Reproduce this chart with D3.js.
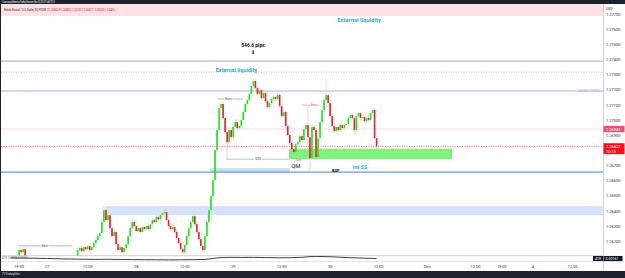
<!DOCTYPE html>
<html><head><meta charset="utf-8">
<script src="https://cdn.jsdelivr.net/npm/d3@7/dist/d3.min.js"></script>
<style>
html,body{margin:0;padding:0;background:#fff;overflow:hidden;}
svg{display:block;font-family:Roboto,"Liberation Sans",sans-serif;}
</style></head><body>
<script>
// ---------- DATA ----------
const firstOpen = 1.26090;
const closes = [
 1.26080,1.26095,1.26070,1.26100,1.26142,1.26128,1.26148,1.26085,1.26060,1.26040,
 1.26020,1.25990,1.25970,1.25950,1.25980,1.25960,1.25940,1.25920,1.25950,1.25975,
 1.25960,1.25990,1.26010,1.25995,1.26020,1.26040,1.26030,1.26050,1.26070,1.26060,
 1.26080,1.26090,1.26100,1.26142,1.26155,1.26135,1.26161,1.26148,1.26168,1.26142,
 1.26161,1.26188,1.26208,1.26234,1.26254,1.26327,1.26406,1.26340,1.26373,1.26287,
 1.26234,1.26261,1.26181,1.26142,1.26161,1.26128,1.26155,1.26181,1.26234,1.26287,
 1.26327,1.26300,1.26267,1.26287,1.26261,1.26294,1.26280,1.26300,1.26280,1.26313,
 1.26340,1.26327,1.26360,1.26346,1.26373,1.26386,1.26393,1.26340,1.26300,1.26280,
 1.26294,1.26261,1.26221,1.26188,1.26148,1.26128,1.26175,1.26234,1.26287,1.26327,
 1.26366,1.26313,1.26261,1.26214,1.26168,1.26142,1.26234,1.26327,1.26406,1.26498,
 1.26604,1.26803,1.26935,1.27080,1.27107,1.27014,1.26922,1.26855,1.26935,1.26888,
 1.26955,1.26988,1.26948,1.26961,1.27001,1.27054,1.27107,1.27133,1.27173,1.27226,
 1.27259,1.27212,1.27173,1.27199,1.27146,1.27179,1.27126,1.27087,1.27113,1.27140,
 1.27153,1.27140,1.27166,1.27093,1.27027,1.27054,1.26961,1.26902,1.26849,1.26809,
 1.26789,1.26842,1.26855,1.26895,1.26869,1.26941,1.26968,1.26888,1.26750,1.26955,
 1.26935,1.26756,1.26882,1.26988,1.27067,1.27133,1.27166,1.27113,1.27027,1.26961,
 1.26928,1.26955,1.26935,1.26968,1.26948,1.26968,1.26974,1.27014,1.27034,1.27014,
 1.26935,1.27027,1.27047,1.27014,1.27021,1.26994,1.27014,1.27001,1.27047,1.27067,
 1.26882,1.26827
];
// wick lengths in pips
const wickUp = [
 1,1,1,0.5,2,1,1.5,1,1,1,
 1,1,1,1,1,1,1,1,1,1,
 1,1,1,1,1,1,1,1,1,1,
 0.5,0.5,0.5,1.5,1,2,1,1.5,1,2,
 1,1.5,1,1.5,1,2,3.3,1.5,2,1,
 1.5,2,1,1,1.5,1,1,1.5,1,1,
 2,1.5,1,2,1,1.5,1,2,1,1,
 1.5,1,1.5,1,1,1,2.6,1.5,1,2,
 1,1.5,1,1,1.5,1,1,1.5,1,1,
 2.6,1.5,1,1,1.5,1,1,1.5,1,1,
 1.5,1,2,4,2,1.5,1,1,2,1,
 1.5,2,1.5,1,1,1.5,1,1,1.5,1,
 2,1.5,1,1.5,1,2,1,1,1,1.5,
 1,1,2,1,1.5,1,1,1,1,1,
 1.5,1,1,1.5,1,2,1.5,13,1,2,
 1,1,1.5,1,1.5,1,11,1,1,1.5,
 1,1,1,1.5,1,1,1.5,1,1.5,1,
 1,1.5,1,1,1.5,1,1,1.5,1,1.3,
 1,0.5
];
const wickDn = [
 1,1,1,1,2,1.5,1,1,1,1,
 1,1,1,1,1,1,1,1,1,1,
 1,1,1,1,1,1,1,1,1,1,
 1,1,1,1.5,1,1,1.5,1,1,1.5,
 1,1,1.5,1,1.5,1,1,1.5,1,1,
 1.5,1,1,1.5,1,1.3,1,1,1.5,1,
 1,1.5,1,1,1.5,1,1,1,1.5,1,
 1,1,1,1.5,1,1,1,1,1.5,1,
 1,1.5,1,1,1,1.3,1.5,1,1,1,
 1,1.5,1,1,1.5,2,1,1,1,1,
 1.5,1,1,1,1.5,1,1,11,1,1.5,
 1,1,1.5,1,1.5,1,1,1,1,1,
 1.5,1,1,1,1.5,1,1.5,1,1,1,
 1,1.5,1,1,1.5,1,1,1,1.5,1,
 2,1,1.5,1,1,1.5,1,15,9.5,1.5,
 1,2,1,1,1,1.5,1,1,1,1,
 1.5,1,2.6,1,1.5,1,1,1,1.5,1,
 3,1,1,1.5,1,1,1.5,1,1,1,
 1,3.7
];
// ATR(14) samples: [bar index, value]
const atrIdx  = [0,6,12,18,24,30,36,42,48,54,60,66,72,78,84,90,96,102,108,114,120,126,132,138,144,150,156,162,168,174,180,181];
const atrVals = [0.00190,0.00185,0.00175,0.00165,0.00150,0.00140,0.00130,0.00125,0.00130,0.00120,0.00115,0.00110,0.00105,0.00100,0.00105,0.00110,0.00120,0.00190,0.00215,0.00210,0.00215,0.00205,0.00195,0.00200,0.00215,0.00260,0.00250,0.00225,0.00200,0.00180,0.00165,0.00161];
// axes
const priceTicks = [1.277,1.276,1.275,1.274,1.273,1.272,1.271,1.270,1.269,1.267,1.266,1.265,1.264,1.263,1.262];
const timeTickIdx = [4,18,38,62,86,110,134,158,182,206,230,243,258.5,278];
const timeTickLabels = ["19:00","27","12:00","28","12:00","29","12:00","30","12:00","Dec","12:00","19:00","4","12:00"];
// levels (prices)
const lvlPips = 1.27391, lvlDotted = 1.27318, lvlFib = 1.27193, lvlAlert = 1.26942, lastPrice = 1.26827, lvlIntSS = 1.26657;
const zoneBlue = [1.26432, 1.26373], zoneGreen = [1.26812, 1.26743], zoneBSF = [1.26683, 1.26657];
const lastATR = 0.00161;

// ---------- LAYOUT ----------
const W = 625, H = 278;
const PX0 = 1, PX1 = 603, PY0 = 4, PY1 = 255.5;
const x = d3.scaleLinear().domain([0, 100]).range([11, 213]);
const y = d3.scaleLinear().domain([1.262, 1.277]).range([241.3, 14.3]);
const yA = d3.scaleLinear().domain([0.0005, 0.0030]).range([261, 255.5]);
const fmt = d3.format(".5f");

const svg = d3.select("body").append("svg").attr("width", W).attr("height", H);
svg.append("rect").attr("width", W).attr("height", H).attr("fill", "#fff");
const defs = svg.append("defs");
defs.append("clipPath").attr("id","clip").append("rect").attr("x",PX0).attr("y",PY0).attr("width",PX1-PX0).attr("height",PY1-PY0);
defs.append("clipPath").attr("id","clipA").append("rect").attr("x",PX0).attr("y",256).attr("width",PX1-PX0).attr("height",5.5);

const g = svg.append("g").attr("clip-path","url(#clip)");

// legend band
g.append("rect").attr("x",PX0).attr("y",PY0).attr("width",PX1-PX0).attr("height",12).attr("fill","#fde1e4");

// zones
g.append("rect").attr("x",x(46.5)).attr("y",y(zoneBlue[0])).attr("width",PX1-x(46.5)).attr("height",y(zoneBlue[1])-y(zoneBlue[0])).attr("fill","#d5e3fa");
g.append("rect").attr("x",x(98.5)).attr("y",y(zoneBSF[0])).attr("width",x(138)-x(98.5)).attr("height",y(zoneBSF[1])-y(zoneBSF[0])).attr("fill","#cddcf7");
g.append("rect").attr("x",x(137.6)).attr("y",y(zoneGreen[0])).attr("width",x(218.3)-x(137.6)).attr("height",y(zoneGreen[1])-y(zoneGreen[0])).attr("fill","#80f080");

// horizontal levels
const hl = (p, col, w, dash) => g.append("line").attr("x1",PX0).attr("x2",PX1).attr("y1",y(p)).attr("y2",y(p))
  .attr("stroke",col).attr("stroke-width",w).attr("stroke-dasharray",dash||null);
hl(lvlPips, "#7f9a84", 0.8);
hl(lvlDotted, "#9a9a9a", 0.7, "1,1.5");
hl(lvlFib, "#b4aaee", 1);
hl(lvlAlert, "#f9cdd5", 0.7);
hl(lastPrice, "#f7525f", 0.7, "1.2,1.2");
hl(lvlIntSS, "#6f97e8", 1.2);

// candles
const bars = closes.map((c,i)=>{const o = i ? closes[i-1] : firstOpen;
  return {i,o,c,h:Math.max(o,c)+wickUp[i]*1e-4,l:Math.min(o,c)-wickDn[i]*1e-4};});
const cg = g.append("g");
cg.selectAll("line.w").data(bars).join("line").attr("class","w")
  .attr("x1",d=>x(d.i)).attr("x2",d=>x(d.i)).attr("y1",d=>y(d.h)).attr("y2",d=>y(d.l))
  .attr("stroke",d=>d.c>=d.o?"#9ff09f":"#f7a8ae").attr("stroke-width",0.6);
cg.selectAll("rect.b").data(bars).join("rect").attr("class","b")
  .attr("x",d=>x(d.i)-0.8).attr("width",1.6)
  .attr("y",d=>y(Math.max(d.o,d.c)))
  .attr("height",d=>Math.max(0.6, Math.abs(y(d.o)-y(d.c))))
  .attr("fill",d=>d.c>=d.o?"#1fe01f":"#f01c2c");

// drawings
const seg = (i1,i2,p,col,w) => g.append("line").attr("x1",x(i1)).attr("x2",x(i2)).attr("y1",y(p)).attr("y2",y(p)).attr("stroke",col).attr("stroke-width",w||0.7);
const txt = (i,p,s,opt) => { const t = g.append("text").attr("x",x(i)).attr("y",y(p)).text(s)
  .attr("text-anchor",opt.anchor||"middle").attr("dominant-baseline","central")
  .attr("font-size",opt.size).attr("fill",opt.fill).attr("font-weight",opt.weight||null);
  if (opt.halo) t.attr("stroke","#fff").attr("stroke-width",1.5).attr("paint-order","stroke");
  return t; };
seg(4,30.2,1.26170,"#8fa8e8",0.8);
txt(16.8,1.26170,"8am",{size:3.3,fill:"#555",halo:true});
seg(102,115,1.27140,"#8fa8e8",0.8);
txt(107.6,1.27140,"8am",{size:3.3,fill:"#555",halo:true});
seg(144,152.5,1.27100,"#f2a0b0",0.8);
txt(150,1.27100,"8am",{size:3.3,fill:"#e06070",halo:true});
seg(106.4,137.5,1.26743,"#a8a8c8",0.8);
txt(122.3,1.26743,"$$$",{size:3.6,fill:"#555",halo:true});
txt(142.5,1.26737,"8am",{size:2.8,fill:"#e06070"});
txt(141,1.26700,"QM",{size:6,fill:"#111"});
txt(160.8,1.26670,"BSF",{size:4.2,fill:"#111",weight:"bold"});
txt(172.8,1.26690,"Int $$",{size:5.6,fill:"#27b1d3",weight:"bold"});
txt(111.6,1.27330,"External liquidity",{size:5.5,fill:"#27b1d3",weight:"bold"});
txt(172.3,1.27662,"External liquidity",{size:5.8,fill:"#27b1d3",weight:"bold"});
txt(119.8,1.27500,"546.6 pips",{size:5,fill:"#111",weight:"bold"});
txt(119.8,1.27450,"\u2B07",{size:5,fill:"#111"});
txt(294,lvlFib,"0.618(1.27193)",{size:3.2,fill:"#a79be8",anchor:"end"}).attr("x",PX1-3);

// legend text
svg.append("text").attr("x",4).attr("y",10.5).attr("font-size",2.9).attr("fill","#333").attr("textLength",42).text("British Pound / U.S. Dollar, 30, FXCM");
svg.append("text").attr("x",47).attr("y",10.5).attr("font-size",2.9).attr("fill","#f23645").attr("textLength",68).text("O1.26882 H1.26885 L1.26790 C1.26827 \u22120.00055 (\u22120.04%)");

// header & footer bars
svg.append("rect").attr("width",W).attr("height",PY0).attr("fill","#1e222d");
svg.append("text").attr("x",2).attr("y",2.6).attr("font-size",2.6).attr("fill","#d1d4dc").attr("textLength",53).text("Cosmos published on TradingView.com, Nov 30, 2023 11:46 UTC-5");
svg.append("rect").attr("x",0).attr("y",271).attr("width",W).attr("height",7).attr("fill","#1e222d");
svg.append("text").attr("x",2).attr("y",275.3).attr("font-size",3).attr("fill","#d1d4dc").attr("textLength",18).text("TV TradingView");
svg.append("rect").attr("x",0).attr("y",PY0).attr("width",1).attr("height",271-PY0).attr("fill","#1e222d");

// ATR pane
svg.append("line").attr("x1",PX0).attr("x2",PX1).attr("y1",255.7).attr("y2",255.7).attr("stroke","#b0b3bb").attr("stroke-width",0.6);
svg.append("g").attr("clip-path","url(#clipA)").append("path")
  .datum(atrIdx.map((d,k)=>[d,atrVals[k]]))
  .attr("d",d3.line().x(d=>x(d[0])).y(d=>yA(d[1])).curve(d3.curveMonotoneX))
  .attr("fill","none").attr("stroke","#111").attr("stroke-width",0.8);
svg.append("text").attr("x",2).attr("y",258.6).attr("font-size",2.6).attr("fill","#555").attr("textLength",26).text("ATR 14 RMA  0.00161");

// time axis
svg.append("line").attr("x1",PX0).attr("x2",PX1).attr("y1",261.5).attr("y2",261.5).attr("stroke","#c5c8ce").attr("stroke-width",0.5);
svg.append("g").selectAll("text").data(timeTickIdx).join("text")
  .attr("x",d=>x(d)).attr("y",266).attr("text-anchor","middle").attr("dominant-baseline","central")
  .attr("font-size",4).attr("fill","#333").text((d,k)=>timeTickLabels[k]);

// price axis
svg.append("line").attr("x1",603.5).attr("x2",603.5).attr("y1",PY0).attr("y2",271).attr("stroke","#b8bbc2").attr("stroke-width",0.6);
svg.append("text").attr("x",606).attr("y",9).attr("font-size",3.5).attr("fill","#333").attr("dominant-baseline","central").text("USD");
svg.append("g").selectAll("text").data(priceTicks).join("text")
  .attr("x",606).attr("y",d=>y(d)).attr("dominant-baseline","central")
  .attr("font-size",4).attr("fill","#333").text(d=>fmt(d));
// alert label
svg.append("rect").attr("x",603.5).attr("y",y(lvlAlert)-3.2).attr("width",21).attr("height",6.4).attr("fill","#f04e74");
svg.append("text").attr("x",606).attr("y",y(lvlAlert)).attr("dominant-baseline","central").attr("font-size",4).attr("fill","#fff").text(fmt(lvlAlert));
// last price label
svg.append("rect").attr("x",603.5).attr("y",y(lastPrice)-3.2).attr("width",21).attr("height",11).attr("fill","#f7101c");
svg.append("text").attr("x",606).attr("y",y(lastPrice)).attr("dominant-baseline","central").attr("font-size",4).attr("fill","#fff").text(fmt(lastPrice));
svg.append("text").attr("x",606).attr("y",y(lastPrice)+4.8).attr("dominant-baseline","central").attr("font-size",4).attr("fill","#fff").text("10:15");
// ATR labels
svg.append("rect").attr("x",593).attr("y",256).attr("width",10).attr("height",5).attr("fill","#131722");
svg.append("text").attr("x",598).attr("y",258.6).attr("text-anchor","middle").attr("dominant-baseline","central").attr("font-size",3.3).attr("fill","#fff").text("ATR");
svg.append("rect").attr("x",603.5).attr("y",yA(lastATR)-2.6).attr("width",19).attr("height",5.2).attr("fill","#131722");
svg.append("text").attr("x",605.5).attr("y",yA(lastATR)).attr("dominant-baseline","central").attr("font-size",3.6).attr("fill","#fff").text(fmt(lastATR));
</script></body></html>
